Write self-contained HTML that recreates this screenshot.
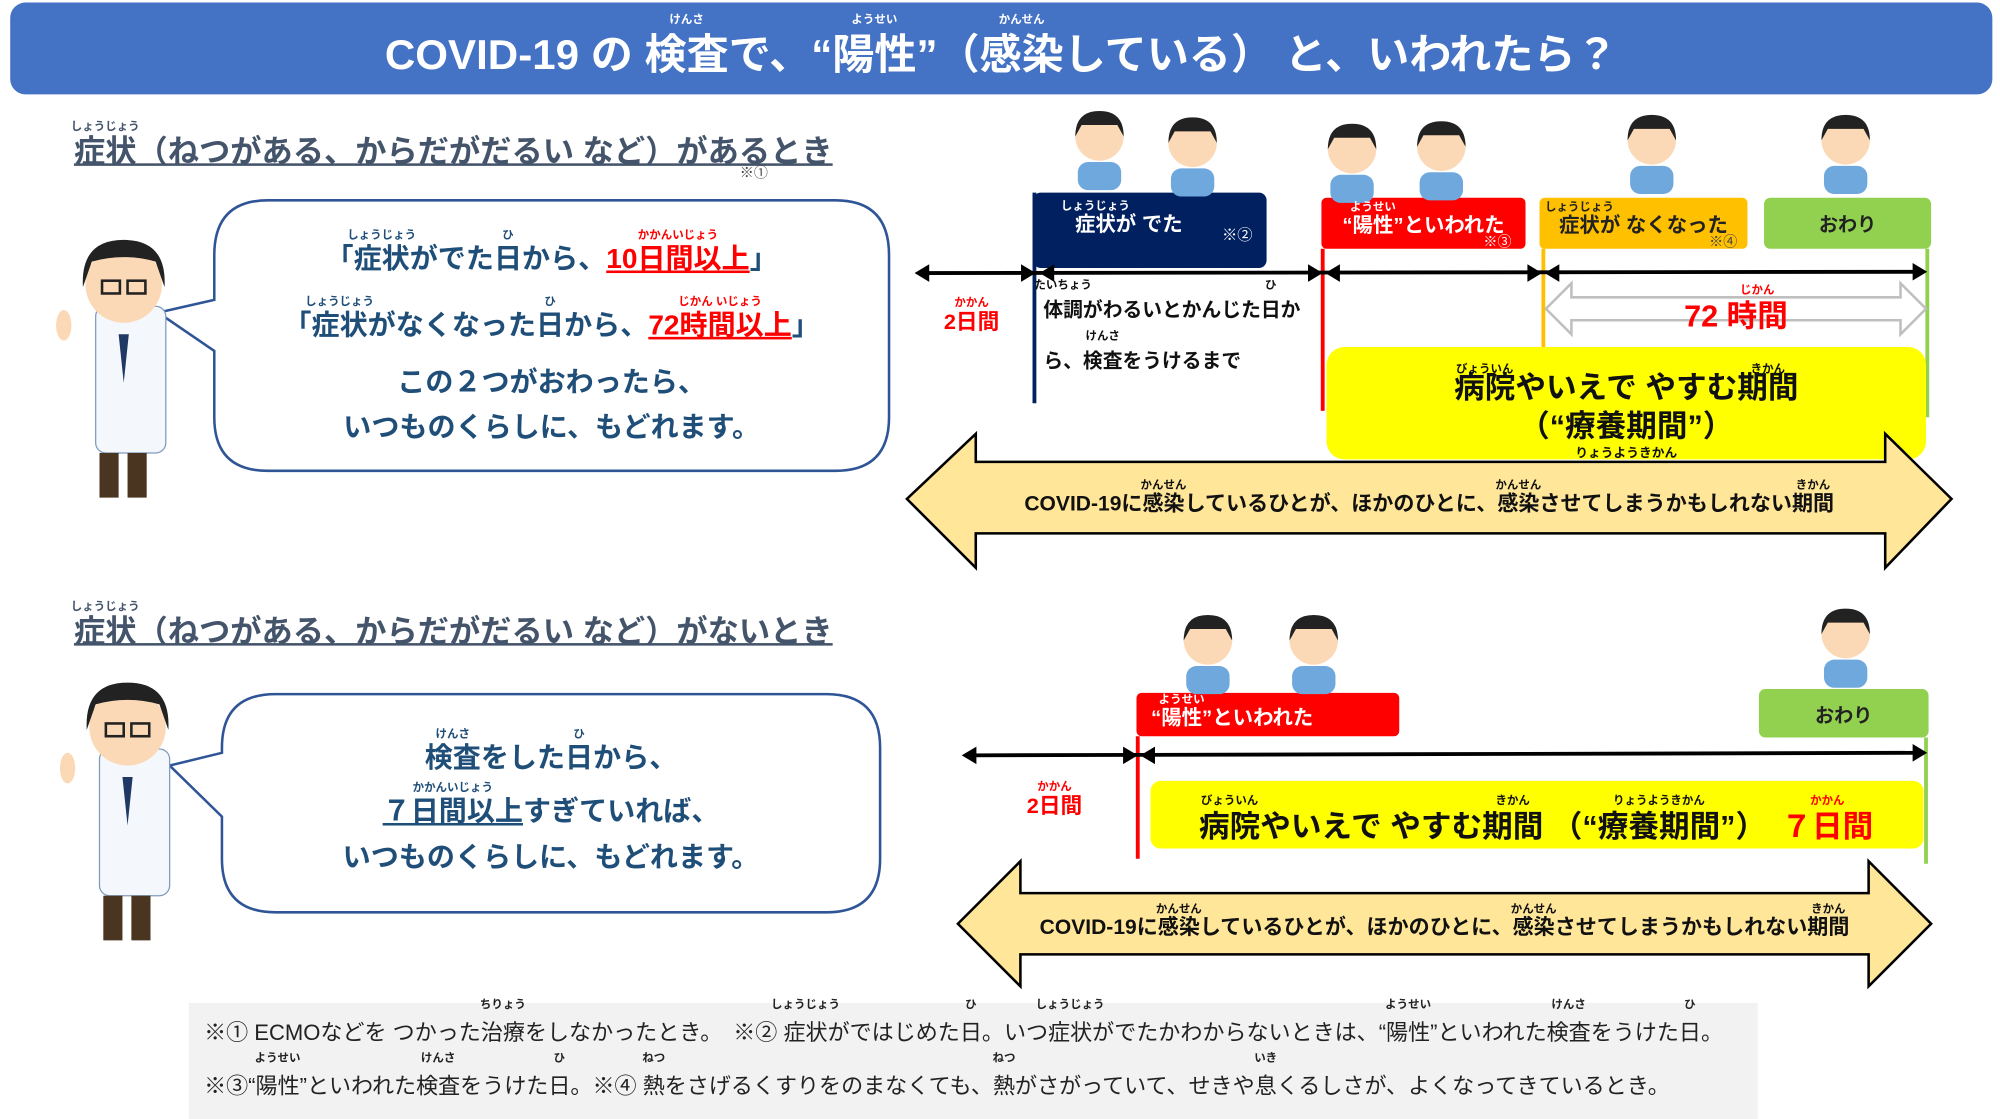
<!DOCTYPE html>
<html><head><meta charset="utf-8">
<style>
html,body{margin:0;padding:0;background:#fff;width:2000px;height:1119px;overflow:hidden}
#c{position:absolute;left:0;top:0;width:1568px;height:877px;transform:scale(1.27551,1.27594);transform-origin:0 0;font-family:"Liberation Sans","Noto Sans CJK JP",sans-serif;font-weight:bold}
.a{position:absolute;white-space:nowrap}
.r{position:relative;display:inline-block}
.r i{position:absolute;left:50%;transform:translateX(-50%);top:-0.6em;font-size:9px;font-style:normal;font-weight:bold;white-space:nowrap;line-height:1;text-decoration:none}
.bt{color:#1f4e79;font-size:22px;text-align:center}
.red{color:#f00;text-decoration:underline}
.h{color:#44546a;font-size:24.5px;text-decoration:underline;text-decoration-thickness:2px}
.h .r{text-decoration:underline;text-decoration-thickness:2px}
.lb{color:#fff;font-size:16px;text-align:center;border-radius:6px}
svg{position:absolute;left:0;top:0}
</style></head><body><div id="c">
<svg width="1568" height="877" viewBox="0 0 1568 877">
<defs>
<g id="doc"><rect x="75" y="240" width="55" height="115" rx="8" fill="#f4f8fc" stroke="#7f9cbf"/><rect x="78" y="355" width="15" height="35" fill="#4a3520"/><rect x="100" y="355" width="15" height="35" fill="#4a3520"/><circle cx="97" cy="223" r="30" fill="#fcd9b6"/><path d="M65 225 Q63 188 97 188 Q131 188 129 225 L122 205 Q97 198 72 205Z" fill="#222"/><rect x="80" y="220" width="14" height="10" fill="none" stroke="#222" stroke-width="2"/><rect x="100" y="220" width="14" height="10" fill="none" stroke="#222" stroke-width="2"/><path d="M93 262 L97 300 L101 262Z" fill="#1f3864"/><ellipse cx="50" cy="255" rx="6" ry="12" fill="#fcd9b6"/></g>
<g id="p"><rect x="-17" y="20" width="34" height="22" rx="8" fill="#6fa8dc"/><circle cx="0" cy="0" r="19" fill="#fcd9b6"/><path d="M-19 0 Q-19 -20 0 -20 Q19 -20 19 0 L14 -9 H-14Z" fill="#222"/></g>
</defs>
<rect x="8" y="2" width="1554" height="72" rx="12" fill="#4472c4"/>
<path d="M210 157 H655 Q697 157 697 200 V327 Q697 369 655 369 H210 Q168 369 168 327 V275 L124 245 L168 235 V200 Q168 157 210 157Z" fill="#fff" stroke="#2f5597" stroke-width="2"/>
<path d="M216 544 H648 Q690 544 690 586 V673 Q690 715 648 715 H216 Q174 715 174 673 V640 L133 600 L174 590 V586 Q174 544 216 544Z" fill="#fff" stroke="#2f5597" stroke-width="2"/>
<use href="#doc"/>
<use href="#doc" x="3" y="347"/>
<rect x="810" y="151" width="183" height="59" rx="6" fill="#002060"/>
<rect x="1036" y="155" width="160" height="40" rx="4" fill="#f00"/>
<rect x="1207" y="155" width="163" height="40" rx="4" fill="#ffc000"/>
<rect x="1383" y="155" width="131" height="40" rx="5" fill="#92d050"/>
<line x1="811" y1="151" x2="811" y2="316" stroke="#002060" stroke-width="3"/>
<line x1="1037" y1="195" x2="1037" y2="322" stroke="#f00" stroke-width="3"/>
<line x1="1210" y1="195" x2="1210" y2="272" stroke="#ffc000" stroke-width="3"/>
<line x1="1511" y1="195" x2="1511" y2="327" stroke="#92d050" stroke-width="3"/>
<g stroke="#000" stroke-width="3" fill="#000">
<line x1="720" y1="214" x2="1508" y2="213"/>
<path d="M718 214 l10 -6 v12z M811 214 l-10 -6 v12z M816 214 l10 -6 v12z M1036 214 l-10 -6 v12z M1040 214 l10 -6 v12z M1208 214 l-10 -6 v12z M1212 214 l10 -6 v12z M1510 213 l-10 -6 v12z" stroke-width="1"/>
</g>
<path d="M1212 242 L1232 222 V233 H1490 V222 L1510 242 L1490 262 V251 H1232 V262Z" fill="#fff" stroke="#bfbfbf" stroke-width="2"/>
<rect x="1040" y="272" width="470" height="88" rx="14" fill="#ff0"/>
<path d="M711 391 L765 340 V362 H1478 V340 L1530 391 L1478 445 V418 H765 V445Z" fill="#ffe699" stroke="#000" stroke-width="2"/>
<rect x="891" y="543" width="206" height="34" rx="4" fill="#f00"/>
<rect x="1379" y="540" width="133" height="38" rx="5" fill="#92d050"/>
<line x1="892" y1="577" x2="892" y2="673" stroke="#f00" stroke-width="3"/>
<line x1="1510" y1="578" x2="1510" y2="677" stroke="#92d050" stroke-width="3"/>
<g stroke="#000" fill="#000"><line x1="757" y1="592" x2="1508" y2="590" stroke-width="3"/>
<path d="M755 592 l10 -6 v12z M891 592 l-10 -6 v12z M895 592 l10 -6 v12z M1510 590 l-10 -6 v12z"/></g>
<rect x="902" y="612" width="606" height="53" rx="8" fill="#ff0"/>
<path d="M751 724 L800 675 V700 H1465 V675 L1514 724 L1465 773 V748 H800 V773Z" fill="#ffe699" stroke="#000" stroke-width="2"/>
<rect x="148" y="786" width="1230" height="91" fill="#f2f2f2"/>
<use href="#p" x="862" y="107"/><use href="#p" x="935" y="112"/><use href="#p" x="1060" y="117"/><use href="#p" x="1130" y="115"/>
<use href="#p" x="1295" y="110"/><use href="#p" x="1447" y="110"/>
<use href="#p" x="947" y="502"/><use href="#p" x="1030" y="502"/><use href="#p" x="1447" y="497"/>
</svg>
<div class="a" style="left:8px;top:16px;width:1554px;text-align:center;color:#fff;font-size:33px">COVID-19 の <span class="r">検査<i>けんさ</i></span>で、“<span class="r">陽性<i>ようせい</i></span>”（<span class="r">感染<i>かんせん</i></span>している） と、いわれたら？</div>
<div class="a h" style="left:58px;top:100px"><span class="r">症状<i>しょうじょう</i></span>（ねつがある、からだがだるい など）があるとき</div>
<div class="a" style="left:580px;top:127px;font-size:11px;color:#444;font-weight:normal">※①</div>
<div class="a bt" style="left:168px;top:185px;width:529px">「<span class="r">症状<i>しょうじょう</i></span>がでた<span class="r">日<i>ひ</i></span>から、<span class="red r">10日間以上<i>かかんいじょう</i></span>」</div>
<div class="a bt" style="left:168px;top:237px;width:529px">「<span class="r">症状<i>しょうじょう</i></span>がなくなった<span class="r">日<i>ひ</i></span>から、<span class="red r">72時間以上<i>じかん いじょう</i></span>」</div>
<div class="a bt" style="left:168px;top:282px;width:529px">この２つがおわったら、</div>
<div class="a bt" style="left:168px;top:317px;width:529px">いつものくらしに、もどれます。</div>
<div class="a lb" style="left:810px;top:162px;width:150px"><span class="r">症状<i>しょうじょう</i></span>が でた</div>
<div class="a" style="left:958px;top:175px;color:#fff;font-size:12px;font-weight:normal">※②</div>
<div class="a lb" style="left:1036px;top:163px;width:160px">“<span class="r">陽性<i>ようせい</i></span>”といわれた</div>
<div class="a" style="left:1163px;top:181px;color:#fff;font-size:11px;font-weight:normal">※③</div>
<div class="a lb" style="left:1207px;top:163px;width:163px;color:#222"><span class="r">症状<i>しょうじょう</i></span>が なくなった</div>
<div class="a" style="left:1340px;top:181px;color:#444;font-size:11px;font-weight:normal">※④</div>
<div class="a lb" style="left:1383px;top:165px;width:131px;color:#222;font-size:15px">おわり</div>
<div class="a" style="left:740px;top:238px;color:#f00;font-size:17px"><span class="r">2日間<i>かかん</i></span></div>
<div class="a" style="left:818px;top:224px;font-size:15.5px;line-height:40px;color:#111"><span class="r">体調<i>たいちょう</i></span>がわるいとかんじた<span class="r">日<i>ひ</i></span>か<br>ら、<span class="r">検査<i>けんさ</i></span>をうけるまで</div>
<div class="a" style="left:1212px;top:228px;width:298px;text-align:center;color:#f00;font-size:24px">72 <span class="r">時間<i>じかん</i></span></div>
<div class="a" style="left:1040px;top:290px;width:470px;text-align:center;font-size:24px;color:#111;line-height:30px"><span class="r">病院<i>びょういん</i></span>やいえで やすむ<span class="r">期間<i>きかん</i></span><br>（“療養期間”）</div>
<div class="a" style="left:1040px;top:346px;width:470px;text-align:center;font-size:10px;color:#111">りょうようきかん</div>
<div class="a" style="left:711px;top:381px;width:819px;text-align:center;font-size:16.5px;color:#111">COVID-19に<span class="r">感染<i>かんせん</i></span>しているひとが、ほかのひとに、<span class="r">感染<i>かんせん</i></span>させてしまうかもしれない<span class="r">期間<i>きかん</i></span></div>
<div class="a h" style="left:58px;top:476px"><span class="r">症状<i>しょうじょう</i></span>（ねつがある、からだがだるい など）がないとき</div>
<div class="a bt" style="left:174px;top:576px;width:516px"><span class="r">検査<i>けんさ</i></span>をした<span class="r">日<i>ひ</i></span>から、</div>
<div class="a bt" style="left:174px;top:618px;width:516px"><span class="r" style="text-decoration:underline">７日間以上<i>かかんいじょう</i></span>すぎていれば、</div>
<div class="a bt" style="left:174px;top:654px;width:516px">いつものくらしに、もどれます。</div>
<div class="a lb" style="left:891px;top:549px;width:150px">“<span class="r">陽性<i>ようせい</i></span>”といわれた</div>
<div class="a lb" style="left:1379px;top:550px;width:133px;color:#222;font-size:15px">おわり</div>
<div class="a" style="left:805px;top:617px;color:#f00;font-size:17px"><span class="r">2日間<i>かかん</i></span></div>
<div class="a" style="left:940px;top:628px;font-size:24px;color:#111"><span class="r">病院<i>びょういん</i></span>やいえで やすむ<span class="r">期間<i>きかん</i></span> （“<span class="r">療養期間<i>りょうようきかん</i></span>”）　<span class="r" style="color:#f00">７日間<i>かかん</i></span></div>
<div class="a" style="left:751px;top:713px;width:763px;text-align:center;font-size:16.5px;color:#111">COVID-19に<span class="r">感染<i>かんせん</i></span>しているひとが、ほかのひとに、<span class="r">感染<i>かんせん</i></span>させてしまうかもしれない<span class="r">期間<i>きかん</i></span></div>
<div class="a" style="left:160px;top:788px;font-size:17.3px;font-weight:normal;color:#222;line-height:42px">※① ECMOなどを つかった<span class="r">治療<i>ちりょう</i></span>をしなかったとき。　※② <span class="r">症状<i>しょうじょう</i></span>がではじめた<span class="r">日<i>ひ</i></span>。いつ<span class="r">症状<i>しょうじょう</i></span>がでたかわからないときは、“<span class="r">陽性<i>ようせい</i></span>”といわれた<span class="r">検査<i>けんさ</i></span>をうけた<span class="r">日<i>ひ</i></span>。<br>※③“<span class="r">陽性<i>ようせい</i></span>”といわれた<span class="r">検査<i>けんさ</i></span>をうけた<span class="r">日<i>ひ</i></span>。※④ <span class="r">熱<i>ねつ</i></span>をさげるくすりをのまなくても、<span class="r">熱<i>ねつ</i></span>がさがっていて、せきや<span class="r">息<i>いき</i></span>くるしさが、よくなってきているとき。</div>
</div></body></html>
